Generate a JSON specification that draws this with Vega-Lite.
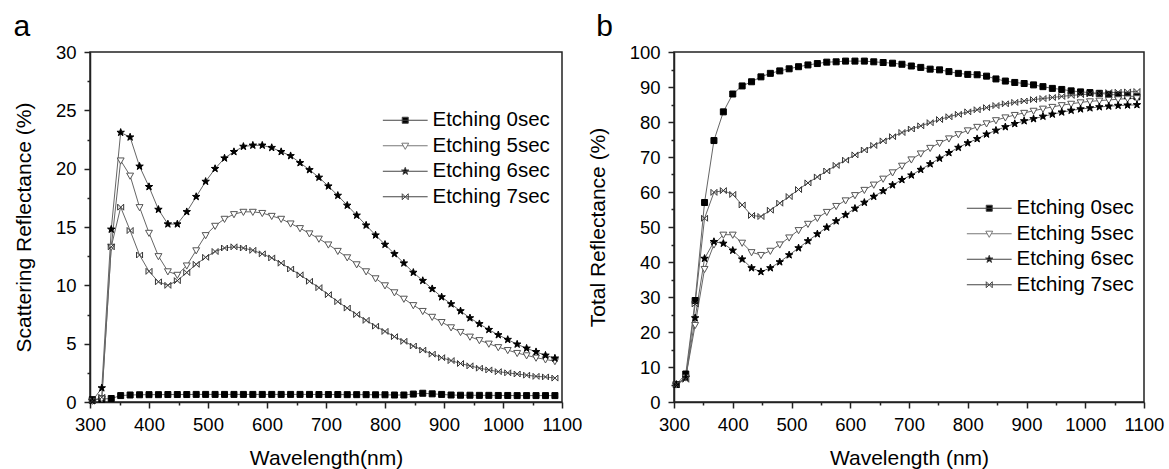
{
"$schema":"https://vega.github.io/schema/vega-lite/v6.json",
"padding":{"left":12,"top":11,"right":5,"bottom":5},
"bounds":"flush",
"spacing":112,
"config":{
"font":"Liberation Sans",
"view":{"stroke":"#222","strokeWidth":1.5},
"axis":{"grid":false,"domainColor":"#222","domainWidth":1.5,"tickColor":"#222","tickWidth":1.5,"labelFont":"Liberation Sans","labelFontSize":18.5,"labelColor":"#000","titleFont":"Liberation Sans","titleFontSize":21,"titleFontWeight":"normal","titleColor":"#000","labelOverlap":false,"labelFlush":false,"labelPadding":7,"format":"d"},
"axisX":{"titlePadding":14},
"axisY":{"titlePadding":21,"labelPadding":8},
"title":{"font":"Liberation Sans","fontSize":30,"fontWeight":"normal","color":"#000","anchor":"start","frame":"bounds","baseline":"alphabetic","offset":1},
"legend":{"labelFont":"Liberation Sans","labelFontSize":20.5,"labelColor":"#000","rowPadding":4.5,"labelOffset":17,"symbolSize":49,"symbolStrokeWidth":1,"padding":0,"labelLimit":300}
},
"datasets":{
"scat":[
{"w":304,"r":0.2,"s":"Etching 0sec"},{"w":320,"r":0.25,"s":"Etching 0sec"},{"w":336,"r":0.3,"s":"Etching 0sec"},{"w":352,"r":0.55,"s":"Etching 0sec"},{"w":368,"r":0.6,"s":"Etching 0sec"},{"w":384,"r":0.62,"s":"Etching 0sec"},{"w":400,"r":0.63,"s":"Etching 0sec"},{"w":416,"r":0.63,"s":"Etching 0sec"},{"w":432,"r":0.64,"s":"Etching 0sec"},{"w":448,"r":0.64,"s":"Etching 0sec"},{"w":464,"r":0.64,"s":"Etching 0sec"},{"w":480,"r":0.65,"s":"Etching 0sec"},{"w":496,"r":0.65,"s":"Etching 0sec"},{"w":512,"r":0.65,"s":"Etching 0sec"},{"w":528,"r":0.65,"s":"Etching 0sec"},{"w":544,"r":0.65,"s":"Etching 0sec"},{"w":560,"r":0.65,"s":"Etching 0sec"},{"w":576,"r":0.65,"s":"Etching 0sec"},{"w":592,"r":0.65,"s":"Etching 0sec"},{"w":608,"r":0.65,"s":"Etching 0sec"},{"w":624,"r":0.65,"s":"Etching 0sec"},{"w":640,"r":0.65,"s":"Etching 0sec"},{"w":656,"r":0.65,"s":"Etching 0sec"},{"w":672,"r":0.65,"s":"Etching 0sec"},{"w":688,"r":0.64,"s":"Etching 0sec"},{"w":704,"r":0.64,"s":"Etching 0sec"},{"w":720,"r":0.64,"s":"Etching 0sec"},{"w":736,"r":0.63,"s":"Etching 0sec"},{"w":752,"r":0.63,"s":"Etching 0sec"},{"w":768,"r":0.63,"s":"Etching 0sec"},{"w":784,"r":0.62,"s":"Etching 0sec"},{"w":800,"r":0.62,"s":"Etching 0sec"},{"w":816,"r":0.6,"s":"Etching 0sec"},{"w":832,"r":0.6,"s":"Etching 0sec"},{"w":848,"r":0.68,"s":"Etching 0sec"},{"w":864,"r":0.75,"s":"Etching 0sec"},{"w":880,"r":0.7,"s":"Etching 0sec"},{"w":896,"r":0.65,"s":"Etching 0sec"},{"w":912,"r":0.6,"s":"Etching 0sec"},{"w":928,"r":0.58,"s":"Etching 0sec"},{"w":944,"r":0.58,"s":"Etching 0sec"},{"w":960,"r":0.57,"s":"Etching 0sec"},{"w":976,"r":0.57,"s":"Etching 0sec"},{"w":992,"r":0.56,"s":"Etching 0sec"},{"w":1008,"r":0.56,"s":"Etching 0sec"},{"w":1024,"r":0.55,"s":"Etching 0sec"},{"w":1040,"r":0.55,"s":"Etching 0sec"},{"w":1056,"r":0.55,"s":"Etching 0sec"},{"w":1072,"r":0.55,"s":"Etching 0sec"},{"w":1088,"r":0.55,"s":"Etching 0sec"},
{"w":304,"r":0.1,"s":"Etching 5sec"},{"w":320,"r":0.3,"s":"Etching 5sec"},{"w":336,"r":13.3,"s":"Etching 5sec"},{"w":352,"r":20.7,"s":"Etching 5sec"},{"w":368,"r":19.4,"s":"Etching 5sec"},{"w":384,"r":16.7,"s":"Etching 5sec"},{"w":400,"r":14.5,"s":"Etching 5sec"},{"w":416,"r":12.5,"s":"Etching 5sec"},{"w":432,"r":11.2,"s":"Etching 5sec"},{"w":448,"r":10.9,"s":"Etching 5sec"},{"w":464,"r":11.7,"s":"Etching 5sec"},{"w":480,"r":13.0,"s":"Etching 5sec"},{"w":496,"r":14.3,"s":"Etching 5sec"},{"w":512,"r":15.1,"s":"Etching 5sec"},{"w":528,"r":15.7,"s":"Etching 5sec"},{"w":544,"r":16.1,"s":"Etching 5sec"},{"w":560,"r":16.3,"s":"Etching 5sec"},{"w":576,"r":16.3,"s":"Etching 5sec"},{"w":592,"r":16.2,"s":"Etching 5sec"},{"w":608,"r":15.95,"s":"Etching 5sec"},{"w":624,"r":15.7,"s":"Etching 5sec"},{"w":640,"r":15.3,"s":"Etching 5sec"},{"w":656,"r":14.9,"s":"Etching 5sec"},{"w":672,"r":14.45,"s":"Etching 5sec"},{"w":688,"r":14.0,"s":"Etching 5sec"},{"w":704,"r":13.5,"s":"Etching 5sec"},{"w":720,"r":12.95,"s":"Etching 5sec"},{"w":736,"r":12.4,"s":"Etching 5sec"},{"w":752,"r":11.8,"s":"Etching 5sec"},{"w":768,"r":11.2,"s":"Etching 5sec"},{"w":784,"r":10.6,"s":"Etching 5sec"},{"w":800,"r":10.0,"s":"Etching 5sec"},{"w":816,"r":9.4,"s":"Etching 5sec"},{"w":832,"r":8.85,"s":"Etching 5sec"},{"w":848,"r":8.3,"s":"Etching 5sec"},{"w":864,"r":7.8,"s":"Etching 5sec"},{"w":880,"r":7.3,"s":"Etching 5sec"},{"w":896,"r":6.85,"s":"Etching 5sec"},{"w":912,"r":6.4,"s":"Etching 5sec"},{"w":928,"r":6.0,"s":"Etching 5sec"},{"w":944,"r":5.6,"s":"Etching 5sec"},{"w":960,"r":5.3,"s":"Etching 5sec"},{"w":976,"r":5.0,"s":"Etching 5sec"},{"w":992,"r":4.7,"s":"Etching 5sec"},{"w":1008,"r":4.45,"s":"Etching 5sec"},{"w":1024,"r":4.2,"s":"Etching 5sec"},{"w":1040,"r":4.0,"s":"Etching 5sec"},{"w":1056,"r":3.8,"s":"Etching 5sec"},{"w":1072,"r":3.65,"s":"Etching 5sec"},{"w":1088,"r":3.5,"s":"Etching 5sec"},
{"w":304,"r":0.1,"s":"Etching 6sec"},{"w":320,"r":1.2,"s":"Etching 6sec"},{"w":336,"r":14.8,"s":"Etching 6sec"},{"w":352,"r":23.1,"s":"Etching 6sec"},{"w":368,"r":22.7,"s":"Etching 6sec"},{"w":384,"r":20.2,"s":"Etching 6sec"},{"w":400,"r":18.45,"s":"Etching 6sec"},{"w":416,"r":16.5,"s":"Etching 6sec"},{"w":432,"r":15.25,"s":"Etching 6sec"},{"w":448,"r":15.25,"s":"Etching 6sec"},{"w":464,"r":16.3,"s":"Etching 6sec"},{"w":480,"r":17.6,"s":"Etching 6sec"},{"w":496,"r":18.9,"s":"Etching 6sec"},{"w":512,"r":20.0,"s":"Etching 6sec"},{"w":528,"r":20.9,"s":"Etching 6sec"},{"w":544,"r":21.45,"s":"Etching 6sec"},{"w":560,"r":21.9,"s":"Etching 6sec"},{"w":576,"r":22.0,"s":"Etching 6sec"},{"w":592,"r":22.0,"s":"Etching 6sec"},{"w":608,"r":21.8,"s":"Etching 6sec"},{"w":624,"r":21.45,"s":"Etching 6sec"},{"w":640,"r":21.1,"s":"Etching 6sec"},{"w":656,"r":20.5,"s":"Etching 6sec"},{"w":672,"r":19.9,"s":"Etching 6sec"},{"w":688,"r":19.25,"s":"Etching 6sec"},{"w":704,"r":18.5,"s":"Etching 6sec"},{"w":720,"r":17.7,"s":"Etching 6sec"},{"w":736,"r":16.85,"s":"Etching 6sec"},{"w":752,"r":16.0,"s":"Etching 6sec"},{"w":768,"r":15.15,"s":"Etching 6sec"},{"w":784,"r":14.3,"s":"Etching 6sec"},{"w":800,"r":13.5,"s":"Etching 6sec"},{"w":816,"r":12.7,"s":"Etching 6sec"},{"w":832,"r":11.9,"s":"Etching 6sec"},{"w":848,"r":11.1,"s":"Etching 6sec"},{"w":864,"r":10.4,"s":"Etching 6sec"},{"w":880,"r":9.7,"s":"Etching 6sec"},{"w":896,"r":9.0,"s":"Etching 6sec"},{"w":912,"r":8.4,"s":"Etching 6sec"},{"w":928,"r":7.8,"s":"Etching 6sec"},{"w":944,"r":7.2,"s":"Etching 6sec"},{"w":960,"r":6.7,"s":"Etching 6sec"},{"w":976,"r":6.2,"s":"Etching 6sec"},{"w":992,"r":5.75,"s":"Etching 6sec"},{"w":1008,"r":5.35,"s":"Etching 6sec"},{"w":1024,"r":4.95,"s":"Etching 6sec"},{"w":1040,"r":4.6,"s":"Etching 6sec"},{"w":1056,"r":4.3,"s":"Etching 6sec"},{"w":1072,"r":4.0,"s":"Etching 6sec"},{"w":1088,"r":3.75,"s":"Etching 6sec"},
{"w":304,"r":0.1,"s":"Etching 7sec"},{"w":320,"r":0.4,"s":"Etching 7sec"},{"w":336,"r":13.3,"s":"Etching 7sec"},{"w":352,"r":16.7,"s":"Etching 7sec"},{"w":368,"r":14.7,"s":"Etching 7sec"},{"w":384,"r":12.6,"s":"Etching 7sec"},{"w":400,"r":11.2,"s":"Etching 7sec"},{"w":416,"r":10.3,"s":"Etching 7sec"},{"w":432,"r":10.0,"s":"Etching 7sec"},{"w":448,"r":10.4,"s":"Etching 7sec"},{"w":464,"r":11.1,"s":"Etching 7sec"},{"w":480,"r":11.8,"s":"Etching 7sec"},{"w":496,"r":12.4,"s":"Etching 7sec"},{"w":512,"r":12.9,"s":"Etching 7sec"},{"w":528,"r":13.2,"s":"Etching 7sec"},{"w":544,"r":13.3,"s":"Etching 7sec"},{"w":560,"r":13.2,"s":"Etching 7sec"},{"w":576,"r":13.0,"s":"Etching 7sec"},{"w":592,"r":12.7,"s":"Etching 7sec"},{"w":608,"r":12.35,"s":"Etching 7sec"},{"w":624,"r":11.9,"s":"Etching 7sec"},{"w":640,"r":11.4,"s":"Etching 7sec"},{"w":656,"r":10.9,"s":"Etching 7sec"},{"w":672,"r":10.35,"s":"Etching 7sec"},{"w":688,"r":9.8,"s":"Etching 7sec"},{"w":704,"r":9.2,"s":"Etching 7sec"},{"w":720,"r":8.6,"s":"Etching 7sec"},{"w":736,"r":8.05,"s":"Etching 7sec"},{"w":752,"r":7.5,"s":"Etching 7sec"},{"w":768,"r":7.0,"s":"Etching 7sec"},{"w":784,"r":6.5,"s":"Etching 7sec"},{"w":800,"r":6.05,"s":"Etching 7sec"},{"w":816,"r":5.6,"s":"Etching 7sec"},{"w":832,"r":5.2,"s":"Etching 7sec"},{"w":848,"r":4.8,"s":"Etching 7sec"},{"w":864,"r":4.45,"s":"Etching 7sec"},{"w":880,"r":4.1,"s":"Etching 7sec"},{"w":896,"r":3.8,"s":"Etching 7sec"},{"w":912,"r":3.55,"s":"Etching 7sec"},{"w":928,"r":3.3,"s":"Etching 7sec"},{"w":944,"r":3.1,"s":"Etching 7sec"},{"w":960,"r":2.9,"s":"Etching 7sec"},{"w":976,"r":2.75,"s":"Etching 7sec"},{"w":992,"r":2.6,"s":"Etching 7sec"},{"w":1008,"r":2.5,"s":"Etching 7sec"},{"w":1024,"r":2.4,"s":"Etching 7sec"},{"w":1040,"r":2.3,"s":"Etching 7sec"},{"w":1056,"r":2.2,"s":"Etching 7sec"},{"w":1072,"r":2.15,"s":"Etching 7sec"},{"w":1088,"r":2.05,"s":"Etching 7sec"}
],
"total":[
{"w":304,"r":5.0,"s":"Etching 0sec"},{"w":320,"r":8.0,"s":"Etching 0sec"},{"w":336,"r":29,"s":"Etching 0sec"},{"w":352,"r":57.0,"s":"Etching 0sec"},{"w":368,"r":74.7,"s":"Etching 0sec"},{"w":384,"r":82.9,"s":"Etching 0sec"},{"w":400,"r":88.0,"s":"Etching 0sec"},{"w":416,"r":90.3,"s":"Etching 0sec"},{"w":432,"r":91.5,"s":"Etching 0sec"},{"w":448,"r":92.9,"s":"Etching 0sec"},{"w":464,"r":93.9,"s":"Etching 0sec"},{"w":480,"r":94.6,"s":"Etching 0sec"},{"w":496,"r":95.2,"s":"Etching 0sec"},{"w":512,"r":95.8,"s":"Etching 0sec"},{"w":528,"r":96.3,"s":"Etching 0sec"},{"w":544,"r":96.7,"s":"Etching 0sec"},{"w":560,"r":97.1,"s":"Etching 0sec"},{"w":576,"r":97.2,"s":"Etching 0sec"},{"w":592,"r":97.4,"s":"Etching 0sec"},{"w":608,"r":97.4,"s":"Etching 0sec"},{"w":624,"r":97.4,"s":"Etching 0sec"},{"w":640,"r":97.2,"s":"Etching 0sec"},{"w":656,"r":97.0,"s":"Etching 0sec"},{"w":672,"r":96.8,"s":"Etching 0sec"},{"w":688,"r":96.5,"s":"Etching 0sec"},{"w":704,"r":96.0,"s":"Etching 0sec"},{"w":720,"r":95.6,"s":"Etching 0sec"},{"w":736,"r":95.1,"s":"Etching 0sec"},{"w":752,"r":94.9,"s":"Etching 0sec"},{"w":768,"r":94.4,"s":"Etching 0sec"},{"w":784,"r":93.9,"s":"Etching 0sec"},{"w":800,"r":93.6,"s":"Etching 0sec"},{"w":816,"r":93.5,"s":"Etching 0sec"},{"w":832,"r":93.1,"s":"Etching 0sec"},{"w":848,"r":92.3,"s":"Etching 0sec"},{"w":864,"r":91.7,"s":"Etching 0sec"},{"w":880,"r":91.3,"s":"Etching 0sec"},{"w":896,"r":91.0,"s":"Etching 0sec"},{"w":912,"r":90.6,"s":"Etching 0sec"},{"w":928,"r":90.1,"s":"Etching 0sec"},{"w":944,"r":89.6,"s":"Etching 0sec"},{"w":960,"r":89.3,"s":"Etching 0sec"},{"w":976,"r":88.9,"s":"Etching 0sec"},{"w":992,"r":88.6,"s":"Etching 0sec"},{"w":1008,"r":88.4,"s":"Etching 0sec"},{"w":1024,"r":88.2,"s":"Etching 0sec"},{"w":1040,"r":87.9,"s":"Etching 0sec"},{"w":1056,"r":87.7,"s":"Etching 0sec"},{"w":1072,"r":87.5,"s":"Etching 0sec"},{"w":1088,"r":87.2,"s":"Etching 0sec"},
{"w":304,"r":5.0,"s":"Etching 5sec"},{"w":320,"r":7.0,"s":"Etching 5sec"},{"w":336,"r":22,"s":"Etching 5sec"},{"w":352,"r":38.0,"s":"Etching 5sec"},{"w":368,"r":45.0,"s":"Etching 5sec"},{"w":384,"r":47.8,"s":"Etching 5sec"},{"w":400,"r":47.8,"s":"Etching 5sec"},{"w":416,"r":45.5,"s":"Etching 5sec"},{"w":432,"r":42.8,"s":"Etching 5sec"},{"w":448,"r":42.0,"s":"Etching 5sec"},{"w":464,"r":43.2,"s":"Etching 5sec"},{"w":480,"r":45.0,"s":"Etching 5sec"},{"w":496,"r":47.0,"s":"Etching 5sec"},{"w":512,"r":49.1,"s":"Etching 5sec"},{"w":528,"r":50.9,"s":"Etching 5sec"},{"w":544,"r":52.6,"s":"Etching 5sec"},{"w":560,"r":54.3,"s":"Etching 5sec"},{"w":576,"r":56.0,"s":"Etching 5sec"},{"w":592,"r":57.6,"s":"Etching 5sec"},{"w":608,"r":59.1,"s":"Etching 5sec"},{"w":624,"r":60.6,"s":"Etching 5sec"},{"w":640,"r":62.1,"s":"Etching 5sec"},{"w":656,"r":63.8,"s":"Etching 5sec"},{"w":672,"r":65.6,"s":"Etching 5sec"},{"w":688,"r":67.5,"s":"Etching 5sec"},{"w":704,"r":69.3,"s":"Etching 5sec"},{"w":720,"r":71.0,"s":"Etching 5sec"},{"w":736,"r":72.6,"s":"Etching 5sec"},{"w":752,"r":74.0,"s":"Etching 5sec"},{"w":768,"r":75.3,"s":"Etching 5sec"},{"w":784,"r":76.5,"s":"Etching 5sec"},{"w":800,"r":77.6,"s":"Etching 5sec"},{"w":816,"r":78.6,"s":"Etching 5sec"},{"w":832,"r":79.6,"s":"Etching 5sec"},{"w":848,"r":80.5,"s":"Etching 5sec"},{"w":864,"r":81.3,"s":"Etching 5sec"},{"w":880,"r":82.0,"s":"Etching 5sec"},{"w":896,"r":82.6,"s":"Etching 5sec"},{"w":912,"r":83.2,"s":"Etching 5sec"},{"w":928,"r":83.8,"s":"Etching 5sec"},{"w":944,"r":84.3,"s":"Etching 5sec"},{"w":960,"r":84.8,"s":"Etching 5sec"},{"w":976,"r":85.2,"s":"Etching 5sec"},{"w":992,"r":85.6,"s":"Etching 5sec"},{"w":1008,"r":85.9,"s":"Etching 5sec"},{"w":1024,"r":86.1,"s":"Etching 5sec"},{"w":1040,"r":86.3,"s":"Etching 5sec"},{"w":1056,"r":86.5,"s":"Etching 5sec"},{"w":1072,"r":86.7,"s":"Etching 5sec"},{"w":1088,"r":86.8,"s":"Etching 5sec"},
{"w":304,"r":5.0,"s":"Etching 6sec"},{"w":320,"r":7.0,"s":"Etching 6sec"},{"w":336,"r":24,"s":"Etching 6sec"},{"w":352,"r":41.0,"s":"Etching 6sec"},{"w":368,"r":45.8,"s":"Etching 6sec"},{"w":384,"r":45.3,"s":"Etching 6sec"},{"w":400,"r":43.3,"s":"Etching 6sec"},{"w":416,"r":40.8,"s":"Etching 6sec"},{"w":432,"r":38.3,"s":"Etching 6sec"},{"w":448,"r":37.2,"s":"Etching 6sec"},{"w":464,"r":38.3,"s":"Etching 6sec"},{"w":480,"r":40.0,"s":"Etching 6sec"},{"w":496,"r":42.0,"s":"Etching 6sec"},{"w":512,"r":44.0,"s":"Etching 6sec"},{"w":528,"r":46.0,"s":"Etching 6sec"},{"w":544,"r":48.0,"s":"Etching 6sec"},{"w":560,"r":49.9,"s":"Etching 6sec"},{"w":576,"r":51.7,"s":"Etching 6sec"},{"w":592,"r":53.5,"s":"Etching 6sec"},{"w":608,"r":55.3,"s":"Etching 6sec"},{"w":624,"r":57.0,"s":"Etching 6sec"},{"w":640,"r":58.7,"s":"Etching 6sec"},{"w":656,"r":60.3,"s":"Etching 6sec"},{"w":672,"r":62.0,"s":"Etching 6sec"},{"w":688,"r":63.5,"s":"Etching 6sec"},{"w":704,"r":64.8,"s":"Etching 6sec"},{"w":720,"r":66.4,"s":"Etching 6sec"},{"w":736,"r":68.0,"s":"Etching 6sec"},{"w":752,"r":69.6,"s":"Etching 6sec"},{"w":768,"r":71.2,"s":"Etching 6sec"},{"w":784,"r":72.7,"s":"Etching 6sec"},{"w":800,"r":74.0,"s":"Etching 6sec"},{"w":816,"r":75.2,"s":"Etching 6sec"},{"w":832,"r":76.5,"s":"Etching 6sec"},{"w":848,"r":77.6,"s":"Etching 6sec"},{"w":864,"r":78.6,"s":"Etching 6sec"},{"w":880,"r":79.5,"s":"Etching 6sec"},{"w":896,"r":80.3,"s":"Etching 6sec"},{"w":912,"r":80.9,"s":"Etching 6sec"},{"w":928,"r":81.6,"s":"Etching 6sec"},{"w":944,"r":82.2,"s":"Etching 6sec"},{"w":960,"r":82.8,"s":"Etching 6sec"},{"w":976,"r":83.3,"s":"Etching 6sec"},{"w":992,"r":83.7,"s":"Etching 6sec"},{"w":1008,"r":84.0,"s":"Etching 6sec"},{"w":1024,"r":84.3,"s":"Etching 6sec"},{"w":1040,"r":84.5,"s":"Etching 6sec"},{"w":1056,"r":84.7,"s":"Etching 6sec"},{"w":1072,"r":84.8,"s":"Etching 6sec"},{"w":1088,"r":84.9,"s":"Etching 6sec"},
{"w":304,"r":5.0,"s":"Etching 7sec"},{"w":320,"r":6.5,"s":"Etching 7sec"},{"w":336,"r":28,"s":"Etching 7sec"},{"w":352,"r":52.5,"s":"Etching 7sec"},{"w":368,"r":59.9,"s":"Etching 7sec"},{"w":384,"r":60.4,"s":"Etching 7sec"},{"w":400,"r":59.3,"s":"Etching 7sec"},{"w":416,"r":56.3,"s":"Etching 7sec"},{"w":432,"r":53.3,"s":"Etching 7sec"},{"w":448,"r":53.0,"s":"Etching 7sec"},{"w":464,"r":54.8,"s":"Etching 7sec"},{"w":480,"r":56.8,"s":"Etching 7sec"},{"w":496,"r":58.7,"s":"Etching 7sec"},{"w":512,"r":60.7,"s":"Etching 7sec"},{"w":528,"r":62.6,"s":"Etching 7sec"},{"w":544,"r":64.3,"s":"Etching 7sec"},{"w":560,"r":66.0,"s":"Etching 7sec"},{"w":576,"r":67.6,"s":"Etching 7sec"},{"w":592,"r":69.1,"s":"Etching 7sec"},{"w":608,"r":70.6,"s":"Etching 7sec"},{"w":624,"r":72.0,"s":"Etching 7sec"},{"w":640,"r":73.3,"s":"Etching 7sec"},{"w":656,"r":74.6,"s":"Etching 7sec"},{"w":672,"r":75.8,"s":"Etching 7sec"},{"w":688,"r":77.0,"s":"Etching 7sec"},{"w":704,"r":78.0,"s":"Etching 7sec"},{"w":720,"r":78.9,"s":"Etching 7sec"},{"w":736,"r":79.8,"s":"Etching 7sec"},{"w":752,"r":80.7,"s":"Etching 7sec"},{"w":768,"r":81.5,"s":"Etching 7sec"},{"w":784,"r":82.2,"s":"Etching 7sec"},{"w":800,"r":82.9,"s":"Etching 7sec"},{"w":816,"r":83.5,"s":"Etching 7sec"},{"w":832,"r":84.1,"s":"Etching 7sec"},{"w":848,"r":84.7,"s":"Etching 7sec"},{"w":864,"r":85.2,"s":"Etching 7sec"},{"w":880,"r":85.6,"s":"Etching 7sec"},{"w":896,"r":86.0,"s":"Etching 7sec"},{"w":912,"r":86.4,"s":"Etching 7sec"},{"w":928,"r":86.7,"s":"Etching 7sec"},{"w":944,"r":87.0,"s":"Etching 7sec"},{"w":960,"r":87.3,"s":"Etching 7sec"},{"w":976,"r":87.6,"s":"Etching 7sec"},{"w":992,"r":87.8,"s":"Etching 7sec"},{"w":1008,"r":88.0,"s":"Etching 7sec"},{"w":1024,"r":88.2,"s":"Etching 7sec"},{"w":1040,"r":88.4,"s":"Etching 7sec"},{"w":1056,"r":88.5,"s":"Etching 7sec"},{"w":1072,"r":88.6,"s":"Etching 7sec"},{"w":1088,"r":88.7,"s":"Etching 7sec"}
]
},
"hconcat":[
{
"width":472,"height":350,
"title":{"text":"a"},
"data":{"name":"scat"},
"encoding":{
"x":{"field":"w","type":"quantitative","scale":{"domain":[300,1100],"nice":false},"axis":{"title":"Wavelength(nm)","format":"d","values":[300,350,400,450,500,550,600,650,700,750,800,850,900,950,1000,1050,1100],"labelExpr":"datum.value % 100 === 0 ? datum.label : ''","tickSize":{"condition":{"test":"datum.value % 100 === 0","value":6},"value":3}}},
"y":{"field":"r","type":"quantitative","scale":{"domain":[0,30],"nice":false,"zero":false},"axis":{"title":"Scattering Reflectance (%)","format":"d","values":[0,2.5,5,7.5,10,12.5,15,17.5,20,22.5,25,27.5,30],"labelExpr":"datum.value % 5 === 0 ? datum.label : ''","tickSize":{"condition":{"test":"datum.value % 5 === 0","value":6},"value":3}}}
},
"layer":[
{"mark":{"type":"line","color":"#666","strokeWidth":1},"encoding":{"detail":{"field":"s"}}},
{"mark":{"type":"point","filled":true,"opacity":1,"size":36,"strokeWidth":1},
"encoding":{
"shape":{"field":"s","type":"nominal","legend":null,"scale":{"domain":["Etching 0sec","Etching 5sec","Etching 6sec","Etching 7sec"],"range":["M-1,-1H1V1H-1Z","M-1.15,-0.85H1.15L0,1.2Z","M0,-1.3L0.306,-0.421L1.236,-0.402L0.494,0.161L0.764,1.052L0,0.52L-0.764,1.052L-0.494,0.161L-1.236,-0.402L-0.306,-0.421Z","M-1,-1L1,1M1,-1L-1,1M-1,-1V1M1,-1V1"]}},
"fill":{"field":"s","type":"nominal","legend":null,"scale":{"domain":["Etching 0sec","Etching 5sec","Etching 6sec","Etching 7sec"],"range":["#000","#fff","#000","transparent"]}},
"stroke":{"field":"s","type":"nominal","legend":null,"scale":{"domain":["Etching 0sec","Etching 5sec","Etching 6sec","Etching 7sec"],"range":["#000","#555","#000","#333"]}}
}},
{"transform":[{"filter":"datum.w < 0"}],
"mark":{"type":"point","filled":true,"opacity":1,"size":49,"strokeWidth":1},
"encoding":{
"shape":{"field":"s","type":"nominal","legend":{"title":null,"orient":"none","legendX":305,"legendY":58},"scale":{"domain":["Etching 0sec","Etching 5sec","Etching 6sec","Etching 7sec"],"range":["M-6.4,0H6.4M-0.86,-0.86H0.86V0.86H-0.86Z","M-6.4,0H-0.6M0.6,0H6.4M-0.99,-0.73H0.99L0,1.03Z","M-6.4,0H6.4M0,-1.114L0.262,-0.361L1.059,-0.345L0.423,0.138L0.655,0.902L0,0.446L-0.655,0.902L-0.423,0.138L-1.059,-0.345L-0.262,-0.361Z","M-6.4,0H6.4M-0.86,-0.86L0.86,0.86M0.86,-0.86L-0.86,0.86M-0.86,-0.86V0.86M0.86,-0.86V0.86"]}},
"fill":{"field":"s","type":"nominal","legend":{"title":null,"orient":"none","legendX":305,"legendY":58},"scale":{"domain":["Etching 0sec","Etching 5sec","Etching 6sec","Etching 7sec"],"range":["#000","#fff","#000","transparent"]}},
"stroke":{"field":"s","type":"nominal","legend":{"title":null,"orient":"none","legendX":305,"legendY":58},"scale":{"domain":["Etching 0sec","Etching 5sec","Etching 6sec","Etching 7sec"],"range":["#444","#777","#444","#444"]}}
}}
],
"resolve":{"scale":{"shape":"independent","fill":"independent","stroke":"independent"}}
},
{
"width":470,"height":350,
"title":{"text":"b","dx":9},
"data":{"name":"total"},
"encoding":{
"x":{"field":"w","type":"quantitative","scale":{"domain":[300,1100],"nice":false},"axis":{"title":"Wavelength (nm)","format":"d","values":[300,350,400,450,500,550,600,650,700,750,800,850,900,950,1000,1050,1100],"labelExpr":"datum.value % 100 === 0 ? datum.label : ''","tickSize":{"condition":{"test":"datum.value % 100 === 0","value":6},"value":3}}},
"y":{"field":"r","type":"quantitative","scale":{"domain":[0,100],"nice":false},"axis":{"title":"Total Reflectance (%)","format":"d","values":[0,5,10,15,20,25,30,35,40,45,50,55,60,65,70,75,80,85,90,95,100],"labelExpr":"datum.value % 10 === 0 ? datum.label : ''","tickSize":{"condition":{"test":"datum.value % 10 === 0","value":6},"value":3}}}
},
"layer":[
{"mark":{"type":"line","color":"#666","strokeWidth":1},"encoding":{"detail":{"field":"s"}}},
{"mark":{"type":"point","filled":true,"opacity":1,"size":36,"strokeWidth":1},
"encoding":{
"shape":{"field":"s","type":"nominal","legend":null,"scale":{"domain":["Etching 0sec","Etching 5sec","Etching 6sec","Etching 7sec"],"range":["M-1,-1H1V1H-1Z","M-1.15,-0.85H1.15L0,1.2Z","M0,-1.3L0.306,-0.421L1.236,-0.402L0.494,0.161L0.764,1.052L0,0.52L-0.764,1.052L-0.494,0.161L-1.236,-0.402L-0.306,-0.421Z","M-1,-1L1,1M1,-1L-1,1M-1,-1V1M1,-1V1"]}},
"fill":{"field":"s","type":"nominal","legend":null,"scale":{"domain":["Etching 0sec","Etching 5sec","Etching 6sec","Etching 7sec"],"range":["#000","#fff","#000","transparent"]}},
"stroke":{"field":"s","type":"nominal","legend":null,"scale":{"domain":["Etching 0sec","Etching 5sec","Etching 6sec","Etching 7sec"],"range":["#000","#555","#000","#333"]}}
}},
{"transform":[{"filter":"datum.w < 0"}],
"mark":{"type":"point","filled":true,"opacity":1,"size":49,"strokeWidth":1},
"encoding":{
"shape":{"field":"s","type":"nominal","legend":{"title":null,"orient":"none","legendX":305,"legendY":146},"scale":{"domain":["Etching 0sec","Etching 5sec","Etching 6sec","Etching 7sec"],"range":["M-6.4,0H6.4M-0.86,-0.86H0.86V0.86H-0.86Z","M-6.4,0H-0.6M0.6,0H6.4M-0.99,-0.73H0.99L0,1.03Z","M-6.4,0H6.4M0,-1.114L0.262,-0.361L1.059,-0.345L0.423,0.138L0.655,0.902L0,0.446L-0.655,0.902L-0.423,0.138L-1.059,-0.345L-0.262,-0.361Z","M-6.4,0H6.4M-0.86,-0.86L0.86,0.86M0.86,-0.86L-0.86,0.86M-0.86,-0.86V0.86M0.86,-0.86V0.86"]}},
"fill":{"field":"s","type":"nominal","legend":{"title":null,"orient":"none","legendX":305,"legendY":146},"scale":{"domain":["Etching 0sec","Etching 5sec","Etching 6sec","Etching 7sec"],"range":["#000","#fff","#000","transparent"]}},
"stroke":{"field":"s","type":"nominal","legend":{"title":null,"orient":"none","legendX":305,"legendY":146},"scale":{"domain":["Etching 0sec","Etching 5sec","Etching 6sec","Etching 7sec"],"range":["#444","#777","#444","#444"]}}
}}
],
"resolve":{"scale":{"shape":"independent","fill":"independent","stroke":"independent"}}
}
]
}
